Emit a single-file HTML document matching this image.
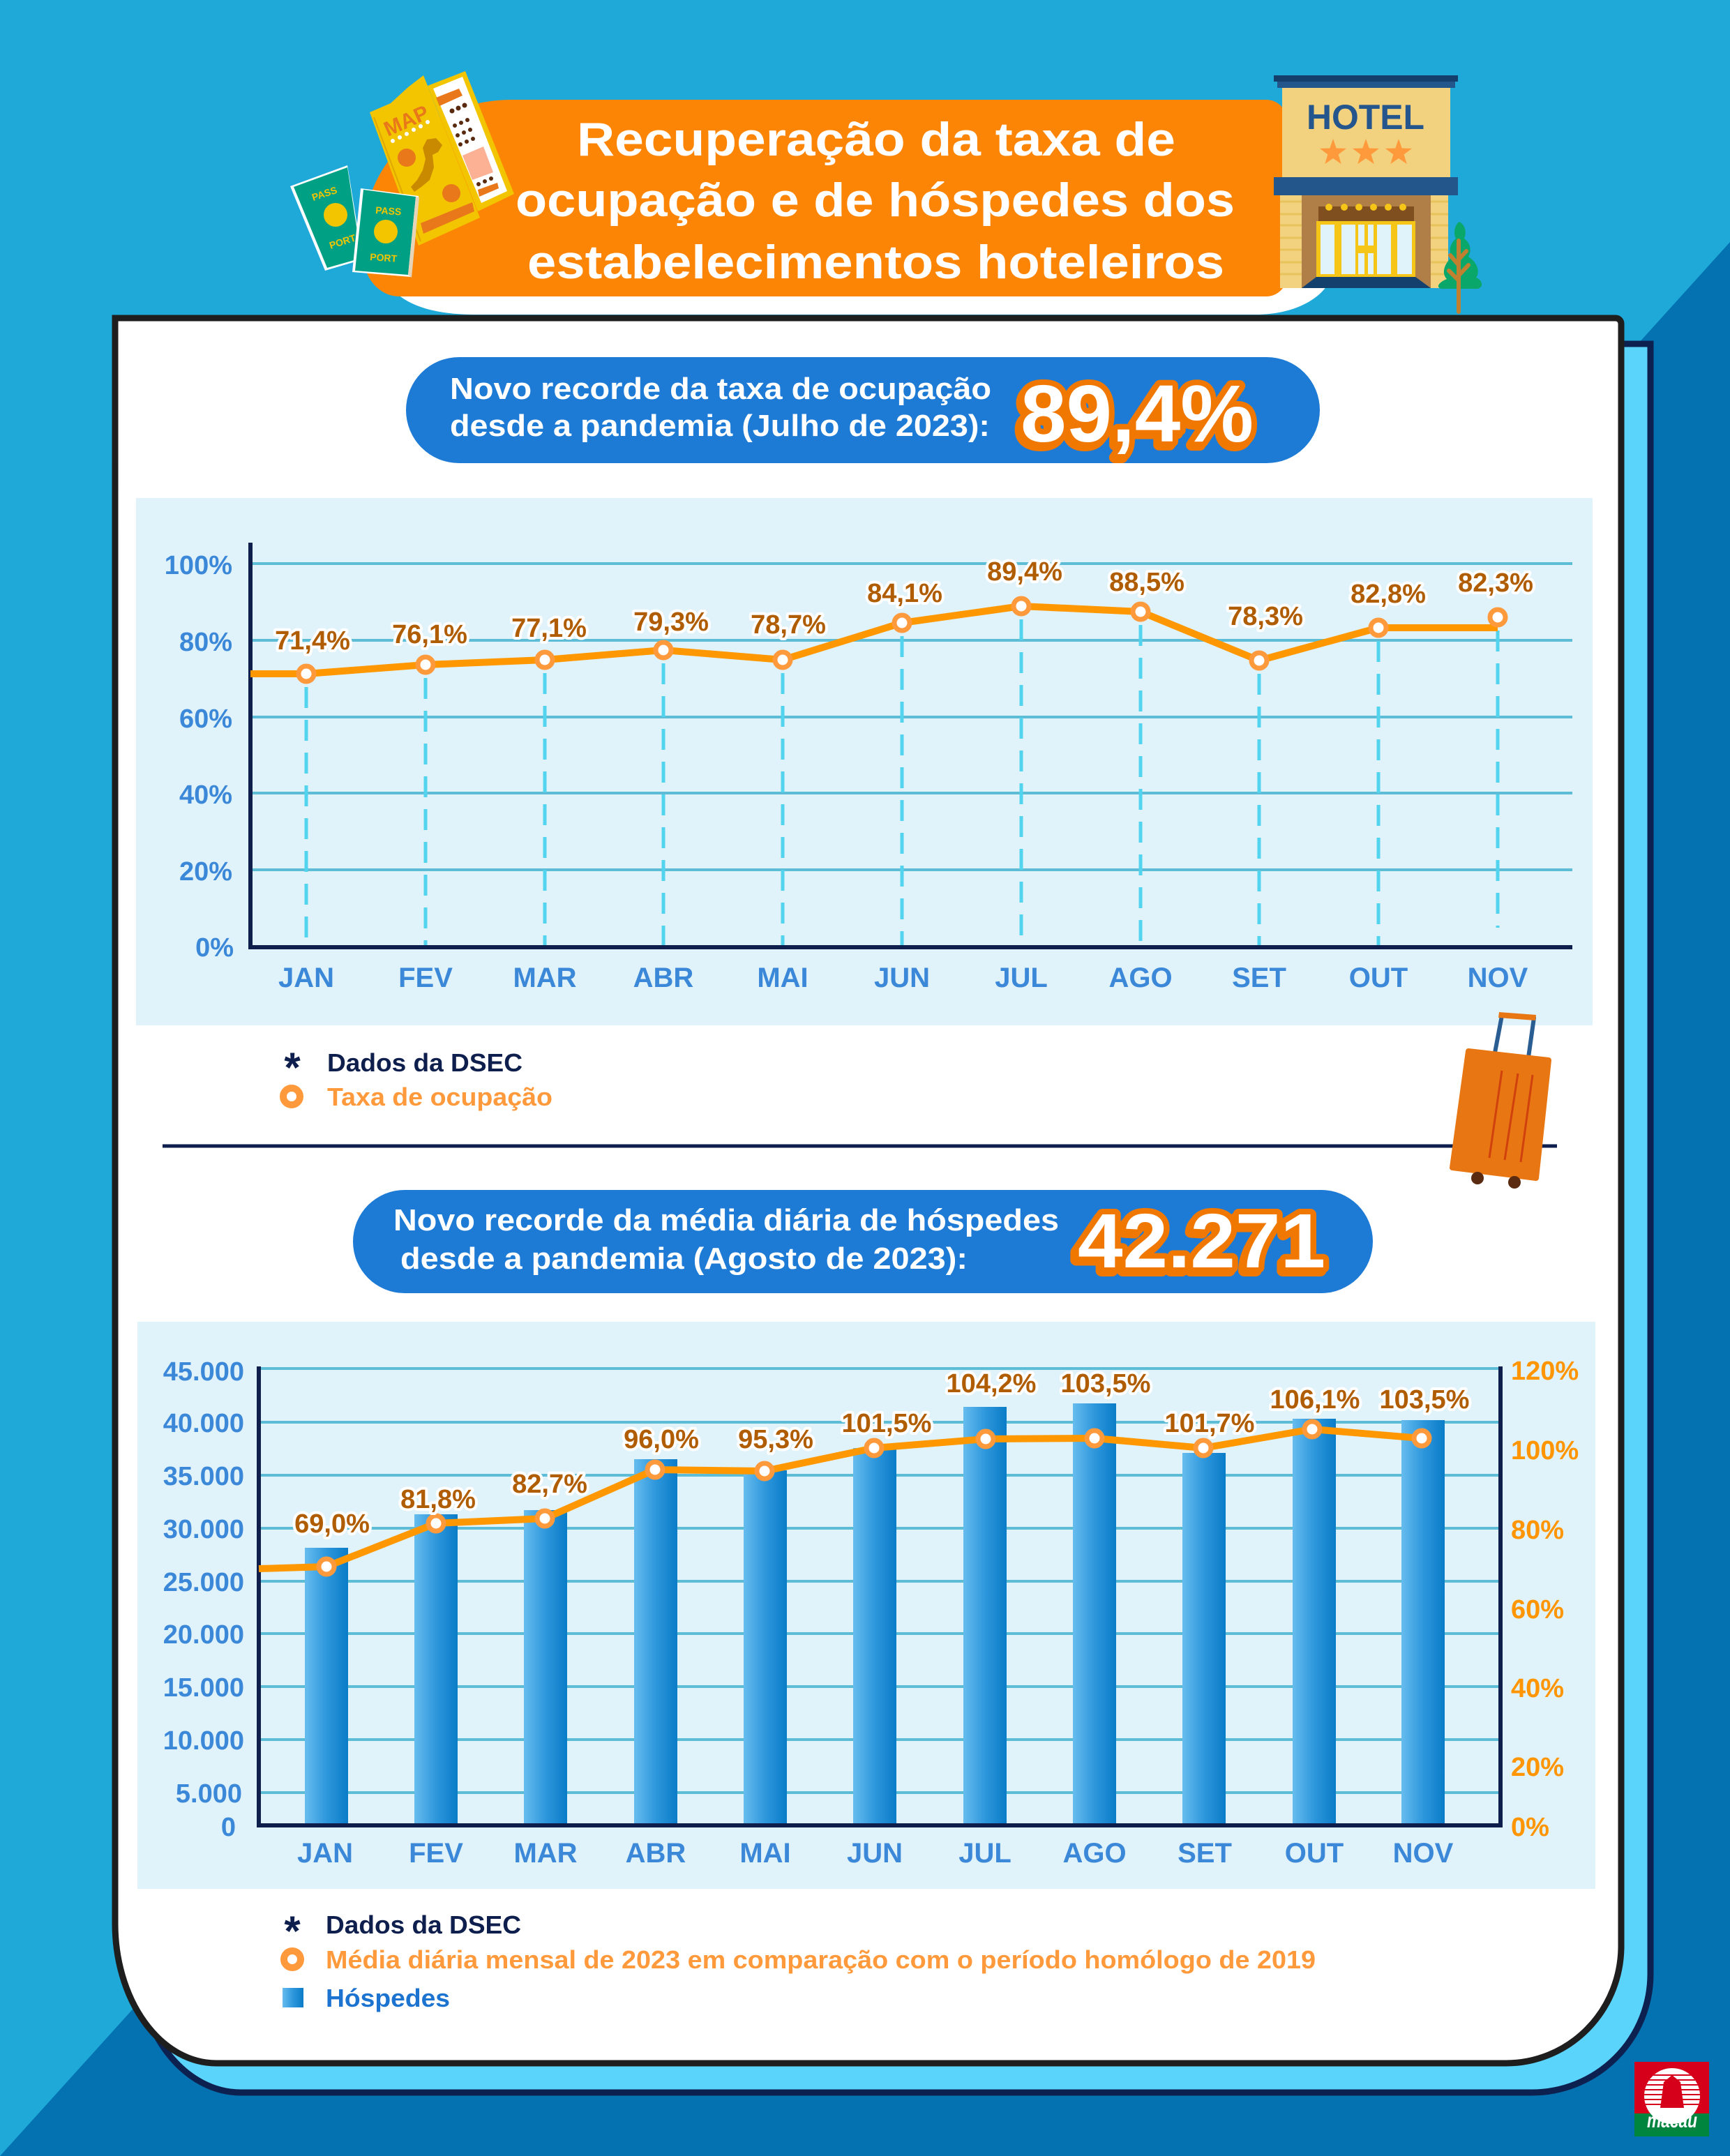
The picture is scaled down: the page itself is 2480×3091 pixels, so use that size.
<!DOCTYPE html>
<html>
<head>
<meta charset="utf-8">
<style>
html,body{margin:0;padding:0;background:#1fa9d8;}
svg{display:block;}
text{font-family:"Liberation Sans",sans-serif;font-weight:bold;}
.dl{font-size:38px;fill:#b05c00;stroke:#ffffff;stroke-width:8px;paint-order:stroke;stroke-linejoin:round;text-anchor:middle;}
.yl{font-size:38px;fill:#3b88d9;text-anchor:end;}
.yr{font-size:38px;fill:#ff9500;text-anchor:start;}
.xl{font-size:40px;fill:#3b88d9;text-anchor:middle;}
.big{fill:#ffffff;stroke:#f07800;stroke-width:16px;paint-order:stroke;stroke-linejoin:round;}
.pill{font-size:44px;fill:#ffffff;font-weight:bold;}
</style>
</head>
<body>
<svg xmlns="http://www.w3.org/2000/svg" width="2480" height="3091" viewBox="0 0 2480 3091">
<defs>
<linearGradient id="bar" x1="0" x2="1" y1="0" y2="0">
<stop offset="0" stop-color="#66bcee"/>
<stop offset="0.5" stop-color="#2e97dc"/>
<stop offset="1" stop-color="#0a7cc7"/>
</linearGradient>
<polygon id="star" points="0,-20 4.7,-6.47 19.02,-6.18 7.61,2.47 11.76,16.18 0,8 -11.76,16.18 -7.61,2.47 -19.02,-6.18 -4.7,-6.47"/>
<clipPath id="logoc"><circle cx="2397" cy="3005" r="40"/></clipPath>
</defs>

<!-- background -->
<rect x="0" y="0" width="2480" height="3091" fill="#1fa9d8"/>
<polygon points="2480,347 2480,3091 0,3091" fill="#0472b1"/>

<!-- back card -->
<path d="M195,493 H2366 V2830 A170,170 0 0 1 2196,3000 H345 A150,200 0 0 1 195,2800 Z" fill="#5bd4fc" stroke="#0d2150" stroke-width="9"/>
<!-- white card -->
<path d="M165,456 H2316 A8,8 0 0 1 2324,464 V2790 A165,168 0 0 1 2159,2958 H310 A145,200 0 0 1 165,2758 Z" fill="#ffffff" stroke="#1e1e1e" stroke-width="9"/>

<!-- title banner -->
<path d="M548,300 L548,380 C552,425 600,451 680,451 L1800,451 C1850,451 1890,432 1905,405 L1905,300 Z" fill="#ffffff"/>
<path d="M733,143 H1815 A30,30 0 0 1 1845,173 V395 A30,30 0 0 1 1815,425 H572 A52,62 0 0 1 520,363 V343 A213,200 0 0 1 733,143 Z" fill="#fd8505"/>
<text x="827" y="223" font-size="68" fill="#ffffff" textLength="858" lengthAdjust="spacingAndGlyphs">Recuperação da taxa de</text>
<text x="739" y="310" font-size="68" fill="#ffffff" textLength="1031" lengthAdjust="spacingAndGlyphs">ocupação e de hóspedes dos</text>
<text x="756" y="399" font-size="68" fill="#ffffff" textLength="999" lengthAdjust="spacingAndGlyphs">estabelecimentos hoteleiros</text>

<!-- map / ticket -->
<polygon points="613,123 667,102 737,278 685,303" fill="#f2c500"/>
<polygon points="621,127 663,110 727,274 690,291" fill="#ffffff"/>
<polygon points="625,140 658,127 663,137 630,152" fill="#e8781a"/>
<g fill="#5a2a10">
<circle cx="648" cy="159" r="3.5"/><circle cx="657" cy="155" r="3.5"/><circle cx="666" cy="151" r="3.5"/>
<circle cx="652" cy="180" r="3"/><circle cx="661" cy="176" r="3"/><circle cx="670" cy="172" r="3"/>
<circle cx="656" cy="194" r="3"/><circle cx="665" cy="190" r="3"/><circle cx="674" cy="186" r="3"/>
<circle cx="660" cy="207" r="3"/><circle cx="669" cy="203" r="3"/><circle cx="678" cy="199" r="3"/>
<circle cx="686" cy="264" r="3"/><circle cx="695" cy="260" r="3"/><circle cx="704" cy="256" r="3"/>
</g>
<polygon points="663,223 693,210 707,247 677,258" fill="#fcb194"/>
<polygon points="685,272 713,262 715,270 687,282" fill="#e8781a"/>
<polygon points="530,161 560,148 585,125 607,108 688,312 600,352" fill="#f2c500"/>
<line x1="536" y1="168" x2="603" y2="346" stroke="#e0a800" stroke-width="2"/>
<text x="0" y="0" font-size="30" fill="#e8781a" font-family="Liberation Serif" transform="translate(556,196) rotate(-24)">MAP</text>
<g fill="#ffffff">
<circle cx="563" cy="202" r="3"/><circle cx="573" cy="197" r="3"/><circle cx="583" cy="192" r="3"/><circle cx="593" cy="186" r="3"/><circle cx="603" cy="181" r="3"/><circle cx="613" cy="175" r="3"/>
</g>
<circle cx="583" cy="226" r="13" fill="#e8781a"/>
<circle cx="647" cy="277" r="13" fill="#e8781a"/>
<path d="M612,200 L625,198 L634,208 L628,218 L620,222 L622,240 L616,258 L604,268 L594,275 L589,268 L598,258 L606,244 L610,228 L606,212 Z" fill="#c98a00"/>
<polygon points="603,320 677,290 680,303 607,335" fill="#e8781a"/>

<!-- passports -->
<polygon points="416,267 498,237 520,372 466,388" fill="#ffffff"/>
<polygon points="421,268 498,240 518,370 469,384" fill="#00a085"/>
<circle cx="481" cy="308" r="17" fill="#f2c500"/>
<text font-size="14" fill="#f2c500" transform="translate(449,288) rotate(-18)">PASS</text>
<text font-size="14" fill="#f2c500" transform="translate(474,357) rotate(-18)">PORT</text>
<polygon points="517,270 600,281 589,397 505,390" fill="#ffffff"/>
<polygon points="521,272 596,282 585,394 509,388" fill="#00a085"/>
<polygon points="596,282 601,283 590,398 585,394" fill="#e6d4b8"/>
<circle cx="553" cy="332" r="17" fill="#f2c500"/>
<text font-size="14" fill="#f2c500" transform="translate(538,306) rotate(4)">PASS</text>
<text font-size="14" fill="#f2c500" transform="translate(530,373) rotate(4)">PORT</text>

<!-- hotel -->
<rect x="1826" y="108" width="264" height="9" fill="#143f6d"/>
<rect x="1831" y="117" width="255" height="9" fill="#23578c"/>
<rect x="1838" y="126" width="241" height="128" fill="#f2d27e"/>
<text x="1873" y="185" font-size="50" fill="#24558c" textLength="169" lengthAdjust="spacingAndGlyphs">HOTEL</text>
<g fill="#ff9a3c">
<use href="#star" transform="translate(1911,219)"/>
<use href="#star" transform="translate(1958,219)"/>
<use href="#star" transform="translate(2005,219)"/>
</g>
<rect x="1826" y="254" width="264" height="26" fill="#23578c"/>
<rect x="1835" y="280" width="241" height="133" fill="#f2d27e"/>
<g stroke="#e8c25a" stroke-width="3">
<line x1="1835" y1="289" x2="2076" y2="289"/><line x1="1835" y1="307" x2="2076" y2="307"/>
<line x1="1835" y1="323" x2="2076" y2="323"/><line x1="1835" y1="341" x2="2076" y2="341"/>
<line x1="1835" y1="358" x2="2076" y2="358"/><line x1="1835" y1="376" x2="2076" y2="376"/>
<line x1="1835" y1="393" x2="2076" y2="393"/>
</g>
<rect x="1866" y="280" width="185" height="133" fill="#b07f47"/>
<rect x="1890" y="296" width="137" height="21" fill="#7f4f20"/>
<g fill="#f5c518">
<circle cx="1905" cy="297" r="5"/><circle cx="1927" cy="297" r="5"/><circle cx="1948" cy="297" r="5"/>
<circle cx="1969" cy="297" r="5"/><circle cx="1990" cy="297" r="5"/><circle cx="2011" cy="297" r="5"/>
</g>
<rect x="1887" y="317" width="142" height="80" fill="#f5c518"/>
<g fill="#e0f3fa">
<rect x="1893" y="322" width="20" height="71"/><rect x="1923" y="322" width="20" height="71"/>
<rect x="1947" y="322" width="9" height="30"/><rect x="1961" y="322" width="8" height="30"/>
<rect x="1947" y="363" width="9" height="30"/><rect x="1961" y="363" width="8" height="30"/>
<rect x="1974" y="322" width="20" height="71"/><rect x="2003" y="322" width="21" height="71"/>
</g>
<polygon points="1887,397 2029,397 2051,413 1866,413" fill="#14406e"/>
<!-- tree -->
<path d="M2092,318 C2085,322 2083,335 2087,342 C2078,350 2076,362 2082,368 C2070,378 2066,392 2074,400 C2062,405 2058,412 2066,414 L2118,414 C2127,412 2126,402 2116,398 C2122,390 2118,376 2105,368 C2110,360 2108,348 2099,342 C2103,332 2100,322 2092,318 Z" fill="#09a86a"/>
<g stroke="#c0802f" stroke-width="6" stroke-linecap="round">
<line x1="2091" y1="345" x2="2091" y2="447"/>
<line x1="2091" y1="380" x2="2079" y2="366"/>
<line x1="2091" y1="372" x2="2102" y2="360"/>
<line x1="2091" y1="402" x2="2077" y2="388"/>
<line x1="2091" y1="395" x2="2105" y2="380"/>
</g>

<!-- pill 1 -->
<rect x="582" y="512" width="1310" height="152" rx="76" fill="#1d7bd6"/>
<text class="pill" x="645" y="572" textLength="776" lengthAdjust="spacingAndGlyphs">Novo recorde da taxa de ocupação</text>
<text class="pill" x="645" y="625" textLength="774" lengthAdjust="spacingAndGlyphs">desde a pandemia (Julho de 2023):</text>
<text x="1459" y="638" font-size="116" fill="#f07800" stroke="#f07800" stroke-width="16" stroke-linejoin="round" textLength="334" lengthAdjust="spacingAndGlyphs">89,4%</text>
<text class="big" x="1463" y="633" font-size="116" textLength="334" lengthAdjust="spacingAndGlyphs">89,4%</text>

<!-- chart 1 -->
<rect x="195" y="714" width="2088" height="756" fill="#e0f2fa"/>
<g stroke="#5dbdd6" stroke-width="4">
<line x1="359" y1="808" x2="2254" y2="808"/>
<line x1="359" y1="918" x2="2254" y2="918"/>
<line x1="359" y1="1028" x2="2254" y2="1028"/>
<line x1="359" y1="1137" x2="2254" y2="1137"/>
<line x1="359" y1="1247" x2="2254" y2="1247"/>
</g>
<g stroke="#52d4ee" stroke-width="5" stroke-dasharray="30 17">
<line x1="439" y1="985" x2="439" y2="1355"/>
<line x1="610" y1="972" x2="610" y2="1355"/>
<line x1="781" y1="965" x2="781" y2="1355"/>
<line x1="951" y1="951" x2="951" y2="1355"/>
<line x1="1122" y1="965" x2="1122" y2="1355"/>
<line x1="1293" y1="912" x2="1293" y2="1355"/>
<line x1="1464" y1="888" x2="1464" y2="1355"/>
<line x1="1635" y1="896" x2="1635" y2="1355"/>
<line x1="1805" y1="966" x2="1805" y2="1355"/>
<line x1="1976" y1="919" x2="1976" y2="1355"/>
<line x1="2147" y1="904" x2="2147" y2="1330"/>
</g>
<line x1="359" y1="778" x2="359" y2="1361" stroke="#0e1f4d" stroke-width="6"/>
<line x1="356" y1="1358" x2="2254" y2="1358" stroke="#0e1f4d" stroke-width="6"/>
<text class="yl" x="333" y="823">100%</text>
<text class="yl" x="333" y="933">80%</text>
<text class="yl" x="333" y="1043">60%</text>
<text class="yl" x="333" y="1152">40%</text>
<text class="yl" x="333" y="1262">20%</text>
<text class="yl" x="335" y="1371">0%</text>
<polyline points="359,966 439,966 610,953 781,946 951,932 1122,946 1293,893 1464,869 1635,877 1805,947 1976,900 2147,900" fill="none" stroke="#ff9800" stroke-width="10" stroke-linejoin="round"/>
<g fill="#ffffff" stroke="#ff9a3c" stroke-width="7">
<circle cx="439" cy="966" r="11"/><circle cx="610" cy="953" r="11"/><circle cx="781" cy="946" r="11"/>
<circle cx="951" cy="932" r="11"/><circle cx="1122" cy="946" r="11"/><circle cx="1293" cy="893" r="11"/>
<circle cx="1464" cy="869" r="11"/><circle cx="1635" cy="877" r="11"/><circle cx="1805" cy="947" r="11"/>
<circle cx="1976" cy="900" r="11"/><circle cx="2147" cy="885" r="11"/>
</g>
<text class="dl" x="448" y="931">71,4%</text>
<text class="dl" x="616" y="922">76,1%</text>
<text class="dl" x="787" y="913">77,1%</text>
<text class="dl" x="962" y="904">79,3%</text>
<text class="dl" x="1130" y="908">78,7%</text>
<text class="dl" x="1297" y="863">84,1%</text>
<text class="dl" x="1469" y="832">89,4%</text>
<text class="dl" x="1644" y="847">88,5%</text>
<text class="dl" x="1814" y="896">78,3%</text>
<text class="dl" x="1990" y="864">82,8%</text>
<text class="dl" x="2144" y="848">82,3%</text>
<text class="xl" x="439" y="1415">JAN</text>
<text class="xl" x="610" y="1415">FEV</text>
<text class="xl" x="781" y="1415">MAR</text>
<text class="xl" x="951" y="1415">ABR</text>
<text class="xl" x="1122" y="1415">MAI</text>
<text class="xl" x="1293" y="1415">JUN</text>
<text class="xl" x="1464" y="1415">JUL</text>
<text class="xl" x="1635" y="1415">AGO</text>
<text class="xl" x="1805" y="1415">SET</text>
<text class="xl" x="1976" y="1415">OUT</text>
<text class="xl" x="2147" y="1415">NOV</text>

<!-- legend 1 -->
<text x="419" y="1551" font-size="60" fill="#0e1f4d" text-anchor="middle">*</text>
<text x="469" y="1536" font-size="36" fill="#0e1f4d" textLength="280" lengthAdjust="spacingAndGlyphs">Dados da DSEC</text>
<circle cx="418" cy="1572" r="12" fill="#ffffff" stroke="#ff9a3c" stroke-width="10"/>
<text x="469" y="1585" font-size="36" fill="#ff9a3c" textLength="323" lengthAdjust="spacingAndGlyphs">Taxa de ocupação</text>

<!-- divider -->
<line x1="233" y1="1643" x2="2232" y2="1643" stroke="#0e1f4d" stroke-width="5"/>

<!-- suitcase -->
<g stroke-linecap="round">
<line x1="2143" y1="1509" x2="2153" y2="1456" stroke="#2a5e93" stroke-width="6"/>
<line x1="2191" y1="1516" x2="2199" y2="1459" stroke="#2a5e93" stroke-width="6"/>
</g>
<polygon points="2149,1451 2202,1455 2201,1463 2148,1459" fill="#e87612"/>
<polygon points="2105,1507 2220,1520 2202,1689 2082,1674" fill="#e87612" stroke="#e87612" stroke-width="8" stroke-linejoin="round"/>
<g stroke="#d0410e" stroke-width="3">
<line x1="2153" y1="1535" x2="2135" y2="1660"/>
<line x1="2176" y1="1539" x2="2157" y2="1663"/>
<line x1="2197" y1="1541" x2="2180" y2="1666"/>
</g>
<circle cx="2118" cy="1689" r="9" fill="#5a2b10"/>
<circle cx="2171" cy="1695" r="9" fill="#5a2b10"/>

<!-- pill 2 -->
<rect x="506" y="1706" width="1462" height="148" rx="74" fill="#1d7bd6"/>
<text class="pill" x="564" y="1764" textLength="954" lengthAdjust="spacingAndGlyphs">Novo recorde da média diária de hóspedes</text>
<text class="pill" x="574" y="1819" textLength="813" lengthAdjust="spacingAndGlyphs">desde a pandemia (Agosto de 2023):</text>
<text x="1541" y="1822" font-size="110" fill="#f07800" stroke="#f07800" stroke-width="16" stroke-linejoin="round" textLength="355" lengthAdjust="spacingAndGlyphs">42.271</text>
<text class="big" x="1545" y="1817" font-size="110" textLength="355" lengthAdjust="spacingAndGlyphs">42.271</text>

<!-- chart 2 -->
<rect x="197" y="1895" width="2090" height="813" fill="#e0f2fa"/>
<g stroke="#5dbdd6" stroke-width="4">
<line x1="371" y1="1962" x2="2151" y2="1962"/>
<line x1="371" y1="2039" x2="2151" y2="2039"/>
<line x1="371" y1="2115" x2="2151" y2="2115"/>
<line x1="371" y1="2191" x2="2151" y2="2191"/>
<line x1="371" y1="2267" x2="2151" y2="2267"/>
<line x1="371" y1="2342" x2="2151" y2="2342"/>
<line x1="371" y1="2418" x2="2151" y2="2418"/>
<line x1="371" y1="2494" x2="2151" y2="2494"/>
<line x1="371" y1="2570" x2="2151" y2="2570"/>
</g>
<g fill="url(#bar)">
<rect x="437" y="2219" width="62" height="396"/>
<rect x="594" y="2171" width="62" height="444"/>
<rect x="751" y="2165" width="62" height="450"/>
<rect x="909" y="2092" width="62" height="523"/>
<rect x="1066" y="2108" width="62" height="507"/>
<rect x="1223" y="2076" width="62" height="539"/>
<rect x="1381" y="2017" width="62" height="598"/>
<rect x="1538" y="2012" width="62" height="603"/>
<rect x="1695" y="2083" width="62" height="532"/>
<rect x="1853" y="2034" width="62" height="581"/>
<rect x="2009" y="2036" width="62" height="579"/>
</g>
<line x1="371" y1="1959" x2="371" y2="2620" stroke="#0e1f4d" stroke-width="6"/>
<line x1="2151" y1="1959" x2="2151" y2="2620" stroke="#0e1f4d" stroke-width="6"/>
<line x1="368" y1="2617" x2="2154" y2="2617" stroke="#0e1f4d" stroke-width="6"/>
<text class="yl" x="350" y="1979">45.000</text>
<text class="yl" x="350" y="2053">40.000</text>
<text class="yl" x="350" y="2129">35.000</text>
<text class="yl" x="350" y="2205">30.000</text>
<text class="yl" x="350" y="2281">25.000</text>
<text class="yl" x="350" y="2356">20.000</text>
<text class="yl" x="350" y="2432">15.000</text>
<text class="yl" x="350" y="2508">10.000</text>
<text class="yl" x="347" y="2584">5.000</text>
<text class="yl" x="338" y="2632">0</text>
<text class="yr" x="2166" y="1978">120%</text>
<text class="yr" x="2166" y="2092">100%</text>
<text class="yr" x="2166" y="2206">80%</text>
<text class="yr" x="2166" y="2320">60%</text>
<text class="yr" x="2166" y="2433">40%</text>
<text class="yr" x="2166" y="2546">20%</text>
<text class="yr" x="2166" y="2632">0%</text>
<polyline points="371,2249 468,2246 625,2184 781,2177 939,2107 1096,2109 1253,2076 1413,2063 1569,2062 1725,2076 1881,2049 2038,2062" fill="none" stroke="#ff9800" stroke-width="10" stroke-linejoin="round"/>
<g fill="#ffffff" stroke="#ff9a3c" stroke-width="7">
<circle cx="468" cy="2246" r="11"/><circle cx="625" cy="2184" r="11"/><circle cx="781" cy="2177" r="11"/>
<circle cx="939" cy="2107" r="11"/><circle cx="1096" cy="2109" r="11"/><circle cx="1253" cy="2076" r="11"/>
<circle cx="1413" cy="2063" r="11"/><circle cx="1569" cy="2062" r="11"/><circle cx="1725" cy="2076" r="11"/>
<circle cx="1881" cy="2049" r="11"/><circle cx="2038" cy="2062" r="11"/>
</g>
<text class="dl" x="476" y="2197">69,0%</text>
<text class="dl" x="628" y="2162">81,8%</text>
<text class="dl" x="788" y="2140">82,7%</text>
<text class="dl" x="948" y="2076">96,0%</text>
<text class="dl" x="1112" y="2076">95,3%</text>
<text class="dl" x="1271" y="2053">101,5%</text>
<text class="dl" x="1421" y="1996">104,2%</text>
<text class="dl" x="1585" y="1996">103,5%</text>
<text class="dl" x="1734" y="2053">101,7%</text>
<text class="dl" x="1885" y="2019">106,1%</text>
<text class="dl" x="2042" y="2019">103,5%</text>
<text class="xl" x="466" y="2670">JAN</text>
<text class="xl" x="625" y="2670">FEV</text>
<text class="xl" x="782" y="2670">MAR</text>
<text class="xl" x="940" y="2670">ABR</text>
<text class="xl" x="1097" y="2670">MAI</text>
<text class="xl" x="1254" y="2670">JUN</text>
<text class="xl" x="1412" y="2670">JUL</text>
<text class="xl" x="1569" y="2670">AGO</text>
<text class="xl" x="1727" y="2670">SET</text>
<text class="xl" x="1884" y="2670">OUT</text>
<text class="xl" x="2040" y="2670">NOV</text>

<!-- legend 2 -->
<text x="419" y="2789" font-size="60" fill="#0e1f4d" text-anchor="middle">*</text>
<text x="467" y="2772" font-size="36" fill="#0e1f4d" textLength="280" lengthAdjust="spacingAndGlyphs">Dados da DSEC</text>
<circle cx="419" cy="2809" r="12" fill="#ffffff" stroke="#ff9a3c" stroke-width="10"/>
<text x="467" y="2822" font-size="36" fill="#ff9a3c" textLength="1419" lengthAdjust="spacingAndGlyphs">Média diária mensal de 2023 em comparação com o período homólogo de 2019</text>
<rect x="405" y="2850" width="30" height="28" fill="url(#bar)"/>
<text x="467" y="2877" font-size="36" fill="#1d74d0" textLength="178" lengthAdjust="spacingAndGlyphs">Hóspedes</text>

<!-- logo -->
<rect x="2343" y="2956" width="107" height="74" fill="#d7001a"/>
<rect x="2343" y="3030" width="107" height="33" fill="#00853f"/>
<circle cx="2397" cy="3005" r="40" fill="#ffffff"/>
<g clip-path="url(#logoc)" stroke="#d7001a" stroke-width="2">
<line x1="2355" y1="2975" x2="2440" y2="2975"/>
<line x1="2355" y1="2982" x2="2440" y2="2982"/>
<line x1="2355" y1="2989" x2="2440" y2="2989"/>
<line x1="2355" y1="2996" x2="2440" y2="2996"/>
<line x1="2355" y1="3003" x2="2440" y2="3003"/>
<line x1="2355" y1="3010" x2="2440" y2="3010"/>
<line x1="2355" y1="3017" x2="2440" y2="3017"/>
</g>
<polygon points="2380,3022 2385,2985 2397,2975 2409,2985 2414,3022" fill="#d7001a"/>
<text x="2397" y="3050" font-size="30" fill="#ffffff" font-style="italic" text-anchor="middle" textLength="72" lengthAdjust="spacingAndGlyphs">macau</text>
</svg>
</body>
</html>
